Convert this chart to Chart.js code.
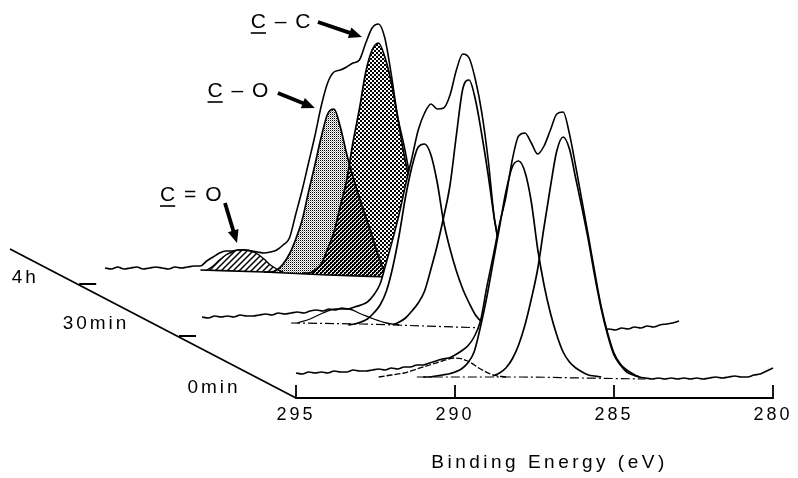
<!DOCTYPE html>
<html><head><meta charset="utf-8">
<script src="https://cdn.jsdelivr.net/npm/chart.js@4.4.1/dist/chart.umd.min.js"></script>
<style>html,body{margin:0;padding:0;background:#fff;}canvas{display:block;}</style>
</head><body>
<canvas id="c" width="798" height="478"></canvas>
<script>
// ---------------- DATA ----------------
// binding energy grid (eV) used by the raw spectra
const energyGrid = [295.0,294.8,294.6,294.4,294.2,294.0,293.8,293.6,293.4,293.2,
293.0,292.8,292.6,292.4,292.2,292.0,291.8,291.6,291.4,291.2,
291.0,290.8,290.6,290.4,290.2,290.0,289.8,289.6,289.4,289.2,
289.0,288.8,288.6,288.4,288.2,288.0,287.8,287.6,287.4,287.2,
287.0,286.8,286.6,286.4,286.2,286.0,285.8,285.6,285.4,285.2,
285.0,284.8,284.6,284.4,284.2,284.0,283.8,283.6,283.4,283.2,
283.0,282.8,282.6,282.4,282.2,282.0,281.8,281.6,281.4,281.2,
281.0,280.8,280.6,280.4,280.2,280.0];
const xTicks = [280, 285, 290, 295];
const depthLabels = ['0min', '30min', '4h'];

// 0 min raw spectrum (a.u.)
const raw0min = [4,3,5,4,5,4,6,5,5,7,
6,6,7,8,7,9,8,10,10,12,
12,14,16,18,19,22,26,31,40,56,
90,121,153,180,217,241,244,234,223,231,
247,263,265,243,210,175,140,104,70,44,
24,13,7,3,0,-1,-2,-1,-2,-1,
-2,-1,-2,-1,-2,-1,0,-1,0,1,
0,0,2,3,6,9];
const fit0E_A = [291.0,290.8,290.6,290.4,290.2,290.0,289.8,289.6,289.4,289.2,289.0,288.8,288.6,288.4,288.2,288.0,287.8,287.6,287.4,287.2,287.0,286.8,286.6,286.4,286.2,286.0,285.8,285.6,285.4];
const fit0I_A = [0,0,1,2,3,5,8,14,25,50,80,115,150,185,210,216,205,175,128,92,64,42,25,15,9,5,2,1,0];
const fit0E_B = [288.8,288.6,288.4,288.2,288.0,287.8,287.6,287.4,287.2,287.0,286.8,286.6,286.4,286.2,286.0,285.8,285.6,285.4,285.2,285.0,284.8,284.6,284.4,284.2];
const fit0I_B = [1,4,9,18,32,52,78,108,150,190,226,240,228,198,168,136,100,68,42,22,12,5,2,0];
const fit0E_C = [292.4,292.0,291.6,291.2,290.8,290.4,290.0,289.6,289.2,288.8,288.4];
const fit0I_C = [0,2,4,8,12,16,19,16,8,2,0];
const base0E = [291.2,290.0,288.0,286.0,284.0];
const base0I = [0,0,0,-1,-2];

// 30 min raw spectrum (a.u.)
const raw30min = [8,7,9,8,9,8,10,9,9,10,
11,10,12,11,12,13,12,14,15,14,
16,15,17,16,18,20,23,30,41,63,
86,111,140,167,195,212,221,216,217,230,
255,271,267,245,212,165,105,74,50,30,
16,7,3,1,0,-1,0,-2,-1,-3,
-2,-4,-3,-5,-4,-5,-3,-4,-2,-3,
-1,-2,0,1,2,4];
const fit30E_A = [290.4,290.2,290.0,289.8,289.6,289.4,289.2,289.0,288.8,288.6,288.4,288.2,288.0,287.8,287.6,287.4,287.2,287.0,286.8,286.6,286.4,286.2,286.0];
const fit30I_A = [0,1,3,6,12,20,34,58,90,128,158,178,181,170,142,103,76,54,36,22,10,3,0];
const fit30E_B = [289.0,288.8,288.6,288.4,288.2,288.0,287.8,287.6,287.4,287.2,287.0,286.8,286.6,286.4,286.2,286.0,285.8,285.6,285.4,285.2,285.0,284.8,284.6,284.4];
const fit30I_B = [0,3,7,14,22,34,56,80,108,140,190,236,245,225,190,150,105,72,48,28,14,6,2,0];
const fit30E_C = [292.0,291.6,291.2,290.8,290.4,290.0,289.6,289.2,288.8];
const fit30I_C = [2,6,12,16,16,11,6,2,0];
const base30E = [292.2,290.0,288.0,286.0,284.0];
const base30I = [2,1,-1,-3,-4];

// 4 h raw spectrum (a.u.), 295.0 ... 284.0 eV
const raw4h = [4,3,5,3,4,5,3,4,5,4,
3,5,4,5,6,6,11,15,19,21,
21,22,22,21,20,19,20,22,27,34,
58,82,109,136,166,189,200,202,205,209,
212,229,244,248,234,198,156,127,95,67,
42,22,10,5,2,1];
const fit4hE_CC = [288.8,288.6,288.4,288.2,288.0,287.8,287.6,287.4,287.2,287.0,286.8,286.6,286.4,286.2,286.0,285.8,285.6,285.4,285.2,285.0,284.8,284.6,284.4,284.2,284.0];
const fit4hI_CC = [-1,-1,2,8,23,40,66,92,130,163,200,222,229,215,190,155,118,88,60,38,20,8,1,-2,-3];
const fit4hE_CO = [290.0,289.8,289.6,289.4,289.2,289.0,288.8,288.6,288.4,288.2,288.0,287.8,287.6,287.4,287.2,287.0,286.8,286.6,286.4,286.2,286.0];
const fit4hI_CO = [0,0,2,8,18,33,52,80,107,135,158,163,145,118,95,74,55,36,16,0,-5];
const fit4hE_CdO = [291.8,291.6,291.4,291.2,291.0,290.8,290.6,290.4,290.2,290.0,289.8,289.6,289.4];
const fit4hI_CdO = [2,6,12,17,20,22,22,21,18,13,7,3,0];
const base4hE = [292.0,290.0,288.0,286.0,284.0];
const base4hI = [2,0,-3,-5,-7];

// peak annotations (anchored on the 4 h spectrum)
const annoLabels = ['C \u2013 C', 'C \u2013 O', 'C = O'];
const annoE = [286.92, 288.40, 290.85];
const annoI = [235, 164, 29];

// ---------------- LAYOUT / STYLE ----------------
const W = 798, PLOT_BOTTOM = 398;
const AX_L = 296, AX_R = 773;
const K = (AX_R - AX_L) / (xTicks[3] - xTicks[0]);      // px per eV
const SHIFT = { s0: { dx: 0, base: 377 }, s30: { dx: -94, base: 325 }, s4: { dx: -191, base: 272 } };
const FONT = "'Liberation Sans', Arial, sans-serif";

function xScale(dx, show) {
  return {
    type: 'linear', reverse: true, display: !!show,
    min: 295 - (W - AX_L - dx) / K, max: 295 + (AX_L + dx) / K
  };
}
function yScale(base) {
  return { type: 'linear', display: false, min: -(PLOT_BOTTOM - base), max: base };
}
const pts = (E, I) => I.map((v, i) => ({ x: E[i], y: v }));

// fill patterns
function makePattern(kind) {
  const c = document.createElement('canvas');
  const g = c.getContext('2d');
  if (kind === 'hatch') {
    c.width = 6; c.height = 6;
    g.strokeStyle = '#000'; g.lineWidth = 1.5;
    g.beginPath();
    g.moveTo(0, 6); g.lineTo(6, 0);
    g.moveTo(-1, 1); g.lineTo(1, -1);
    g.moveTo(5, 7); g.lineTo(7, 5);
    g.stroke();
  } else if (kind === 'fine') {
    c.width = 2; c.height = 2;
    g.fillStyle = '#000';
    g.fillRect(0, 0, 1, 1);
    g.fillStyle = 'rgba(0,0,0,0.35)';
    g.fillRect(1, 1, 1, 1);
  } else {
    c.width = 4; c.height = 4;
    g.fillStyle = '#000';
    g.fillRect(0, 0, 2, 2);
    g.fillRect(2, 2, 2, 2);
  }
  return g.createPattern(c, 'repeat');
}
const ctx0 = document.getElementById('c').getContext('2d');
const patHatch = makePattern('hatch');
const patFine = makePattern('fine');
const patCheck = makePattern('check');

const lineBase = { pointRadius: 0, borderColor: '#000', cubicInterpolationMode: 'monotone', fill: false };
const datasets = [];
function add(d) { datasets.push(Object.assign({}, lineBase, d)); return datasets.length - 1; }

// 0 min (front)
add({ data: pts(energyGrid, raw0min), xAxisID: 'x', yAxisID: 'y0', borderWidth: 1.6, fill: 'origin', backgroundColor: '#fff', order: 19 });
add({ data: pts(base0E, base0I), xAxisID: 'x', yAxisID: 'y0', borderWidth: 1.2, borderDash: [9, 3, 2, 3], order: 18 });
add({ data: pts(fit0E_C, fit0I_C), xAxisID: 'x', yAxisID: 'y0', borderWidth: 1.3, borderDash: [6, 2], order: 17 });
add({ data: pts(fit0E_A, fit0I_A), xAxisID: 'x', yAxisID: 'y0', borderWidth: 1.7, order: 16 });
add({ data: pts(fit0E_B, fit0I_B), xAxisID: 'x', yAxisID: 'y0', borderWidth: 1.7, order: 15 });
// 30 min
add({ data: pts(energyGrid, raw30min), xAxisID: 'x30', yAxisID: 'y30', borderWidth: 1.6, fill: 'origin', backgroundColor: '#fff', order: 29 });
add({ data: pts(base30E, base30I), xAxisID: 'x30', yAxisID: 'y30', borderWidth: 1.2, borderDash: [9, 3, 2, 3], order: 28 });
add({ data: pts(fit30E_C, fit30I_C), xAxisID: 'x30', yAxisID: 'y30', borderWidth: 1.3, order: 27 });
add({ data: pts(fit30E_A, fit30I_A), xAxisID: 'x30', yAxisID: 'y30', borderWidth: 1.7, order: 26 });
add({ data: pts(fit30E_B, fit30I_B), xAxisID: 'x30', yAxisID: 'y30', borderWidth: 1.7, order: 25 });
// 4 h (back)
const iBase4 = add({ data: pts(base4hE, base4hI), xAxisID: 'x4', yAxisID: 'y4', borderWidth: 1.7, order: 39 });
add({ data: pts(fit4hE_CdO, fit4hI_CdO), xAxisID: 'x4', yAxisID: 'y4', borderWidth: 1.4, order: 38,
      fill: { target: iBase4, above: patHatch, below: 'rgba(0,0,0,0)' } });
add({ data: pts(fit4hE_CO, fit4hI_CO), xAxisID: 'x4', yAxisID: 'y4', borderWidth: 1.7, order: 37,
      fill: { target: iBase4, above: patFine, below: 'rgba(0,0,0,0)' } });
add({ data: pts(fit4hE_CC, fit4hI_CC), xAxisID: 'x4', yAxisID: 'y4', borderWidth: 1.7, order: 36,
      fill: { target: iBase4, above: patCheck, below: 'rgba(0,0,0,0)' } });
add({ data: pts(energyGrid, raw4h), xAxisID: 'x4', yAxisID: 'y4', borderWidth: 1.6, order: 35 });

function arrow(ctx, x0, y0, x1, y1) {
  const a = Math.atan2(y1 - y0, x1 - x0);
  const hl = 13, hw = 5.5;
  const bx = x1 - hl * Math.cos(a), by = y1 - hl * Math.sin(a);
  ctx.lineWidth = 3.8;
  ctx.beginPath(); ctx.moveTo(x0, y0); ctx.lineTo(bx + Math.cos(a), by + Math.sin(a)); ctx.stroke();
  ctx.beginPath(); ctx.moveTo(x1, y1);
  ctx.lineTo(bx + hw * Math.sin(a), by - hw * Math.cos(a));
  ctx.lineTo(bx - hw * Math.sin(a), by + hw * Math.cos(a));
  ctx.closePath(); ctx.fill();
}

const decor = {
  id: 'decor',
  beforeDraw(chart) { chart.ctx.letterSpacing = '3px'; },
  afterDraw(chart) {
    const ctx = chart.ctx, x = chart.scales.x;
    const yAx = chart.chartArea.bottom;
    ctx.save();
    ctx.strokeStyle = '#000'; ctx.fillStyle = '#000';
    ctx.lineWidth = 1.8;
    const pL = x.getPixelForValue(xTicks[3]), pR = x.getPixelForValue(xTicks[0]);
    ctx.beginPath();
    ctx.moveTo(pL, yAx); ctx.lineTo(pR, yAx);
    xTicks.forEach(v => { const p = x.getPixelForValue(v); ctx.moveTo(p, yAx + 0.9); ctx.lineTo(p, yAx - 13); });
    // depth (time) axis
    const dvx = -286, dvy = -149;
    ctx.moveTo(pL, yAx); ctx.lineTo(pL + dvx, yAx + dvy);
    const frac = [0, 0.416, 0.765];
    for (let i = 1; i < frac.length; i++) {
      const px = pL + dvx * frac[i], py = yAx + dvy * frac[i];
      ctx.moveTo(px + 2, py); ctx.lineTo(px + 19, py);
    }
    ctx.stroke();
    const labOff = [[-82, -10], [-81, -12], [-52, -6]];
    ctx.font = '19px ' + FONT; ctx.letterSpacing = '3px';
    ctx.textAlign = 'center'; ctx.textBaseline = 'middle';
    depthLabels.forEach((t, i) => {
      const px = pL + dvx * frac[i], py = yAx + dvy * frac[i];
      ctx.fillText(t, px + labOff[i][0], py + labOff[i][1]);
    });
    // axis title
    ctx.font = '19px ' + FONT; ctx.letterSpacing = '3.5px';
    ctx.fillText('Binding Energy (eV)', (pL + pR) / 2 + 15, 463);
    // annotations
    const sx = chart.scales.x4, sy = chart.scales.y4;
    const tail = [[-44, -15], [-37, -15], [-12, -40]];
    const txt = [[-6, 0], [-8, -2], [-2, -8]];
    ctx.font = '21px ' + FONT; ctx.letterSpacing = '1.5px';
    ctx.textAlign = 'left';
    annoLabels.forEach((t, i) => {
      const tx = sx.getPixelForValue(annoE[i]), ty = sy.getPixelForValue(annoI[i]);
      const ax = tx + tail[i][0], ay = ty + tail[i][1];
      arrow(ctx, ax, ay, tx, ty);
      const w = ctx.measureText(t).width;
      const left = ax + txt[i][0] - w, mid = ay + txt[i][1];
      ctx.fillText(t, left, mid);
      const cw = ctx.measureText('C').width - 1.5;
      ctx.lineWidth = 1.6;
      ctx.beginPath(); ctx.moveTo(left, mid + 11); ctx.lineTo(left + cw, mid + 11); ctx.stroke();
    });
    ctx.restore();
  }
};

new Chart(ctx0, {
  type: 'line',
  data: { datasets },
  options: {
    responsive: false, animation: false, devicePixelRatio: 1,
    layout: { padding: 0 },
    plugins: { legend: { display: false }, tooltip: { enabled: false } },
    scales: {
      x: Object.assign(xScale(SHIFT.s0.dx, true), {
        position: 'bottom',
        grid: { display: false, drawTicks: false },
        border: { display: false },
        ticks: { color: '#000', font: { family: FONT, size: 18 }, padding: 6, autoSkip: false, maxRotation: 0 },
        afterBuildTicks: s => { s.ticks = xTicks.map(v => ({ value: v })); },
        afterFit: s => { s.height = 478 - PLOT_BOTTOM; }
      }),
      x30: xScale(SHIFT.s30.dx, false),
      x4: xScale(SHIFT.s4.dx, false),
      y0: yScale(SHIFT.s0.base),
      y30: yScale(SHIFT.s30.base),
      y4: yScale(SHIFT.s4.base)
    }
  },
  plugins: [decor]
});
</script>
</body></html>
